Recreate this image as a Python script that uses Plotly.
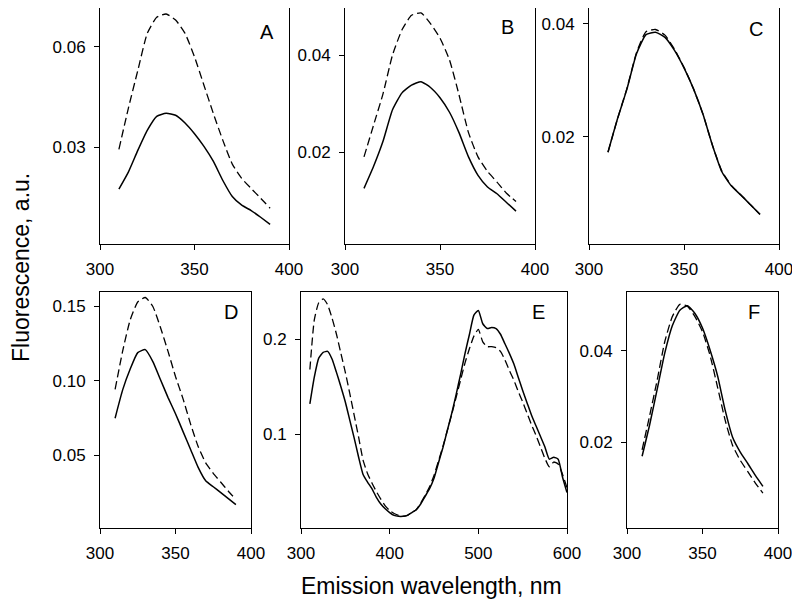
import plotly.graph_objects as go

# ---------------- data ----------------
wl = [310, 315, 320, 325, 330, 335, 340, 345, 350, 355, 360, 365, 370, 375, 380, 385, 390]

A_solid = [0.0174, 0.0225, 0.0290, 0.0350, 0.0392, 0.0401, 0.0395, 0.0372, 0.0340, 0.0302, 0.0257, 0.0200, 0.0152, 0.0126, 0.0110, 0.0090, 0.0069]
A_dash = [0.0293, 0.0416, 0.0529, 0.0640, 0.0688, 0.0698, 0.0680, 0.0640, 0.0570, 0.0485, 0.0400, 0.0320, 0.0249, 0.0206, 0.0176, 0.0147, 0.0117]

B_solid = [0.0125, 0.0170, 0.0222, 0.0287, 0.0322, 0.0338, 0.0345, 0.0333, 0.0312, 0.0282, 0.0240, 0.0190, 0.0152, 0.0128, 0.0114, 0.0096, 0.0078]
B_dash = [0.0190, 0.0255, 0.0320, 0.0400, 0.0452, 0.0482, 0.0487, 0.0465, 0.0435, 0.0390, 0.0318, 0.0240, 0.0190, 0.0160, 0.0138, 0.0115, 0.0098]

C_solid = [0.0173, 0.0232, 0.0285, 0.0347, 0.0381, 0.0385, 0.0376, 0.0353, 0.0322, 0.0285, 0.0240, 0.0185, 0.0138, 0.0113, 0.0097, 0.0080, 0.0063]
C_dash = [0.0173, 0.0232, 0.0286, 0.0349, 0.0386, 0.0390, 0.0380, 0.0355, 0.0323, 0.0285, 0.0240, 0.0185, 0.0139, 0.0114, 0.0097, 0.0080, 0.0063]

D_solid = [0.075, 0.094, 0.108, 0.119, 0.121, 0.113, 0.101, 0.089, 0.078, 0.066, 0.054, 0.042, 0.033, 0.029, 0.025, 0.021, 0.017]
D_dash = [0.0944, 0.120, 0.141, 0.153, 0.156, 0.150, 0.136, 0.120, 0.103, 0.088, 0.071, 0.056, 0.045, 0.038, 0.032, 0.026, 0.0205]

F_solid = [0.0169, 0.0238, 0.0316, 0.0395, 0.0455, 0.0489, 0.0499, 0.0482, 0.0450, 0.0402, 0.0345, 0.0270, 0.0210, 0.0178, 0.0153, 0.0127, 0.0103]
F_dash = [0.0183, 0.0258, 0.0336, 0.0420, 0.0475, 0.0502, 0.0498, 0.0475, 0.0442, 0.0390, 0.0320, 0.0248, 0.0192, 0.0160, 0.0135, 0.0110, 0.0088]

wlE = [310, 315, 320, 325, 330, 335, 340, 345, 350, 355, 360, 365, 370, 375, 380, 385, 390, 395,
       400, 405, 410, 415, 420, 425, 430, 435, 440, 445, 450, 455, 460, 465, 470, 475, 480, 485,
       490, 495, 500, 505, 510, 515, 520, 525, 530, 535, 540, 545, 550, 555, 560, 565, 570, 575,
       580, 585, 590, 595, 600]
E_solid = [0.132, 0.160, 0.180, 0.186, 0.187, 0.179, 0.165, 0.150, 0.134, 0.115, 0.096, 0.076, 0.058, 0.050,
           0.043, 0.034, 0.027, 0.022, 0.018, 0.015, 0.014, 0.014, 0.015, 0.018, 0.021, 0.027, 0.035, 0.043,
           0.054, 0.070, 0.086, 0.104, 0.122, 0.142, 0.163, 0.185, 0.205, 0.225, 0.230, 0.216, 0.211, 0.212,
           0.211, 0.205, 0.195, 0.185, 0.174, 0.160, 0.146, 0.133, 0.120, 0.109, 0.098, 0.087, 0.074, 0.076,
           0.074, 0.055, 0.039]
E_dash = [0.168, 0.220, 0.238, 0.242, 0.236, 0.222, 0.205, 0.185, 0.165, 0.143, 0.120, 0.097, 0.073, 0.059,
          0.049, 0.040, 0.032, 0.025, 0.020, 0.017, 0.015, 0.014, 0.015, 0.018, 0.021, 0.028, 0.036, 0.045,
          0.057, 0.072, 0.087, 0.104, 0.121, 0.139, 0.157, 0.175, 0.190, 0.203, 0.210, 0.197, 0.192, 0.192,
          0.191, 0.187, 0.178, 0.167, 0.157, 0.145, 0.134, 0.122, 0.110, 0.099, 0.087, 0.075, 0.066, 0.071,
          0.069, 0.058, 0.044]

panel_names = ["A", "B", "C", "D", "E", "F"]
x_ticks_short = [300, 350, 400]
x_ticks_E = [300, 400, 500, 600]
y_ticks = {
    "A": ([0.03, 0.06], ["0.03", "0.06"]),
    "B": ([0.02, 0.04], ["0.02", "0.04"]),
    "C": ([0.02, 0.04], ["0.02", "0.04"]),
    "D": ([0.05, 0.10, 0.15], ["0.05", "0.10", "0.15"]),
    "E": ([0.1, 0.2], ["0.1", "0.2"]),
    "F": ([0.02, 0.04], ["0.02", "0.04"]),
}
y_ranges = {
    "A": [0.001, 0.0716],
    "B": [0.00103, 0.0497],
    "C": [0.00106, 0.0428],
    "D": [0.0013, 0.1597],
    "E": [0.0018, 0.2493],
    "F": [0.00116, 0.0529],
}
x_title = "Emission wavelength, nm"
y_title = "Fluorescence, a.u."

# ---------------- layout geometry (page pixels) ----------------
PAD = 8            # default page body margin
W, H = 800 - PAD, 604 - PAD


def px(x):
    return min(1.0, max(0.0, (x - PAD) / W))


def py(y):
    return min(1.0, max(0.0, 1 - (y - PAD) / H))


boxes = {  # left, right, top, bottom
    "A": (100, 289, 8, 244),
    "B": (345, 535, 8, 244),
    "C": (589, 779, 8, 244),
    "D": (100, 251, 292, 528),
    "E": (301, 567, 292, 528),
    "F": (627, 778, 292, 528),
}
label_pos = {  # centre of panel letter
    "A": (267, 32), "B": (507, 27), "C": (756, 29),
    "D": (231, 312), "E": (538, 312), "F": (754, 312),
}

series = {
    "A": (wl, A_solid, A_dash),
    "B": (wl, B_solid, B_dash),
    "C": (wl, C_solid, C_dash),
    "D": (wl, D_solid, D_dash),
    "E": (wlE, E_solid, E_dash),
    "F": (wl, F_solid, F_dash),
}

FONT = "Liberation Sans, Arial, sans-serif"
fig = go.Figure()
layout = {}
annotations = []

for i, name in enumerate(panel_names):
    n = i + 1
    xs, ys_solid, ys_dash = series[name]
    xa = "x" if n == 1 else f"x{n}"
    ya = "y" if n == 1 else f"y{n}"
    fig.add_trace(go.Scatter(x=xs, y=ys_dash, mode="lines", xaxis=xa, yaxis=ya,
                             line=dict(color="black", width=1.3, dash="8px,4px",
                                       shape="spline", smoothing=0.5),
                             showlegend=False, hoverinfo="skip"))
    fig.add_trace(go.Scatter(x=xs, y=ys_solid, mode="lines", xaxis=xa, yaxis=ya,
                             line=dict(color="black", width=1.5,
                                       shape="spline", smoothing=0.5),
                             showlegend=False, hoverinfo="skip"))
    l, r, t, b = boxes[name]
    xr = [300, 600] if name == "E" else [300, 400]
    xt = x_ticks_E if name == "E" else x_ticks_short
    yv, yt = y_ticks[name]
    axis_common = dict(showline=True, linecolor="black", linewidth=1, mirror=True,
                       ticks="outside", ticklen=5, tickwidth=1, tickcolor="black",
                       showgrid=False, zeroline=False, automargin=False,
                       ticklabelstandoff=5,
                       tickfont=dict(family=FONT, size=17, color="black"))
    layout["xaxis" if n == 1 else f"xaxis{n}"] = dict(
        domain=[px(l), px(r)], anchor=ya, range=xr, tickvals=xt,
        ticktext=[str(v) for v in xt], **axis_common)
    layout["yaxis" if n == 1 else f"yaxis{n}"] = dict(
        domain=[py(b), py(t)], anchor=xa, range=y_ranges[name],
        tickvals=yv, ticktext=yt, **axis_common)
    lx, ly = label_pos[name]
    annotations.append(dict(text=name, xref="paper", yref="paper",
                            x=px(lx), y=py(ly),
                            xanchor="center", yanchor="middle", showarrow=False,
                            font=dict(family=FONT, size=20, color="black")))

annotations.append(dict(text=x_title, xref="paper", yref="paper", x=px(431), y=py(586),
                        xanchor="center", yanchor="middle", showarrow=False,
                        font=dict(family=FONT, size=23, color="black")))
annotations.append(dict(text=y_title, xref="paper", yref="paper", x=px(21), y=py(268),
                        xanchor="center", yanchor="middle", showarrow=False, textangle=-90,
                        font=dict(family=FONT, size=23, color="black")))

fig.update_layout(template="none", width=W, height=H, margin=dict(l=0, r=0, t=0, b=0),
                  paper_bgcolor="white", plot_bgcolor="white",
                  annotations=annotations, **layout)
fig.write_html("out.html")
